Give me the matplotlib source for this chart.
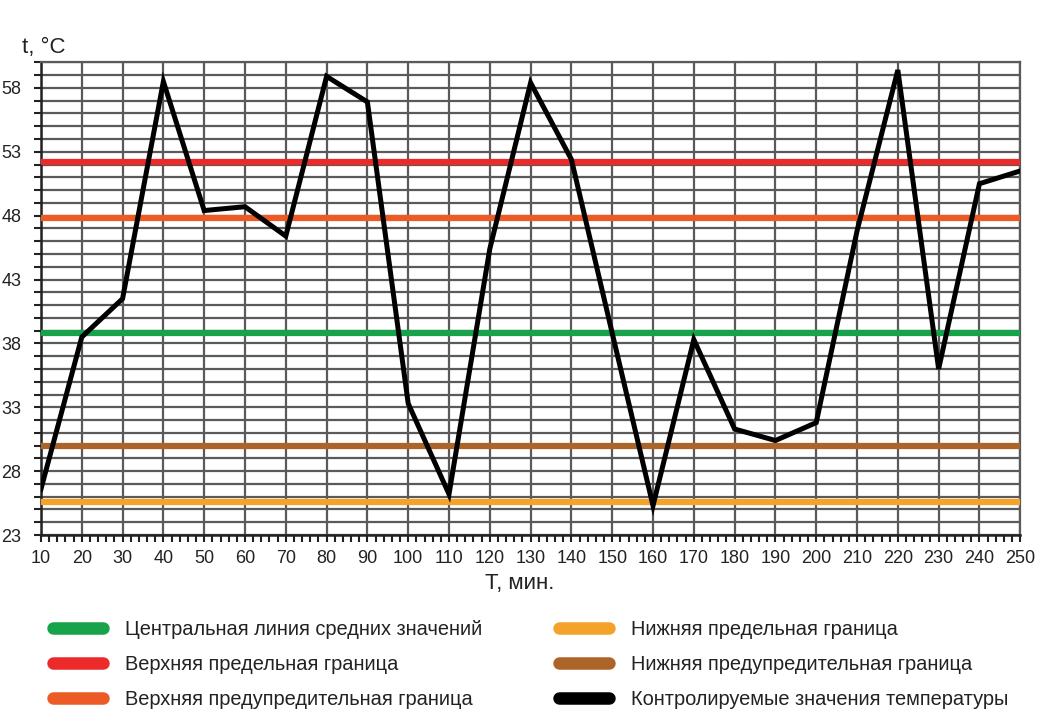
import numpy as np
import matplotlib
matplotlib.use("Agg")
import matplotlib.pyplot as plt
from matplotlib.lines import Line2D
from matplotlib.ticker import MultipleLocator

plt.rcParams['font.family'] = ['Liberation Sans Narrow', 'Liberation Sans', 'DejaVu Sans']

# measured values
minutes = np.arange(10, 260, 10)
temps = [26.6, 38.5, 41.5, 58.5, 48.4, 48.7, 46.4, 58.9, 56.9, 33.3,
         26.2, 45.4, 58.4, 52.4, 38.8, 25.3, 38.3, 31.3, 30.4, 31.8,
         46.8, 59.4, 36.0, 50.5, 51.5]

center_line = 38.8
upper_limit = 52.2
upper_warn = 47.8
lower_warn = 30.0
lower_limit = 25.6

labels = ['Центральная линия средних значений',
          'Верхняя предельная граница',
          'Верхняя предупредительная граница',
          'Нижняя предельная граница',
          'Нижняя предупредительная граница',
          'Контролируемые значения температуры']
colors = ['#16a34a', '#ec2a2a', '#ec5a26', '#f4a229', '#ad6428', '#000000']

fig = plt.figure(figsize=(10.4, 7.25), dpi=100)
ax = fig.add_axes([0.0394, 0.262, 0.9416, 0.652])

ax.set_xlim(10, 250)
ax.set_ylim(23, 60)
ax.xaxis.set_major_locator(MultipleLocator(10))
ax.xaxis.set_minor_locator(MultipleLocator(2))
ax.set_yticks(np.arange(23, 59, 5))
ax.yaxis.set_minor_locator(MultipleLocator(1))

ax.grid(which='major', axis='x', color='#5a5a5a', lw=1.6)
ax.grid(which='minor', axis='y', color='#5a5a5a', lw=1.6)
ax.grid(which='major', axis='y', color='#5a5a5a', lw=1.6)
ax.set_axisbelow(True)

for s in ['top', 'right']:
    ax.spines[s].set_color('#5a5a5a')
    ax.spines[s].set_linewidth(1.6)
for s in ['left', 'bottom']:
    ax.spines[s].set_color('#222222')
    ax.spines[s].set_linewidth(1.8)

ax.tick_params(which='both', direction='out', color='#222222', width=1.5)
ax.tick_params(which='major', length=5, labelsize=13, colors='#222222')
ax.tick_params(which='minor', length=5)
ax.tick_params(axis='x', pad=6)
ax.tick_params(axis='y', pad=9)

lvl_vals = [center_line, upper_limit, upper_warn, lower_limit, lower_warn]
for v, c in zip(lvl_vals, colors[:5]):
    ax.axhline(v, color=c, lw=4.5, zorder=3)

ax.plot(minutes, temps, color='black', lw=3.6, zorder=4, solid_joinstyle='miter')

fig.text(0.021, 0.927, 't, °C', fontsize=16, color='#222222')
fig.text(0.5, 0.188, 'T, мин.', fontsize=16, ha='center', color='#222222')

handles = [Line2D([], [], color=c, lw=9, solid_capstyle='round') for c in colors]
fig.legend(handles, labels, ncol=2, loc='upper left', bbox_to_anchor=(0.034, 0.17),
           frameon=False, fontsize=14.4, handlelength=2.5, handletextpad=1.1,
           labelspacing=0.8, columnspacing=3.8, labelcolor='#222222')

fig.savefig('out.png', dpi=100)
